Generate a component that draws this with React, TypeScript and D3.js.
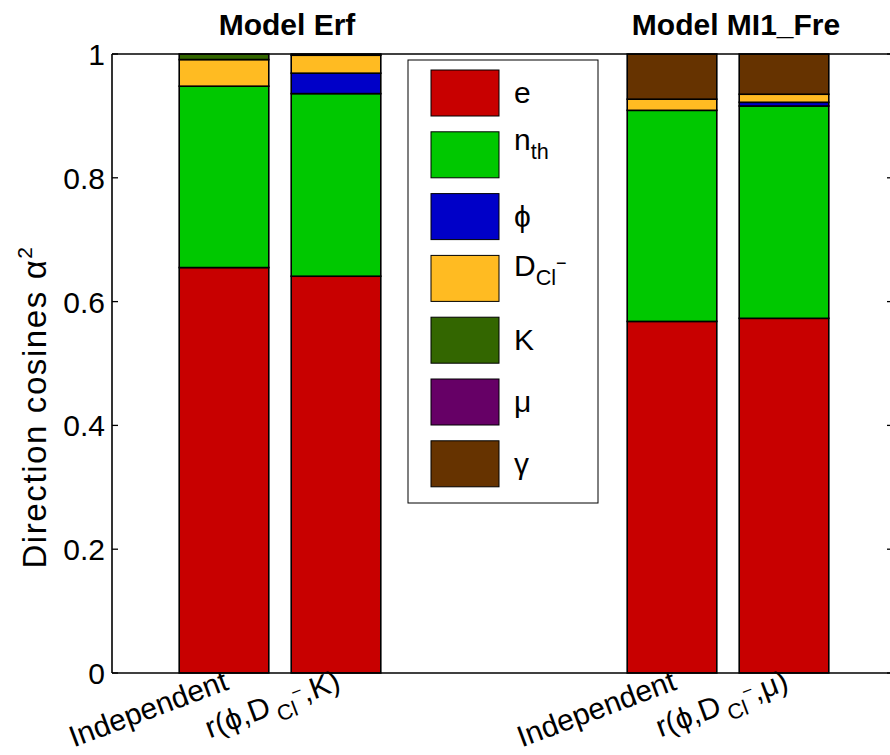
import React from "react";
import * as d3 from "d3";

const W = 890;
const H = 755;

// ---- data ----
const categories = ["Independent", "r(ϕ,D_Cl⁻,K)", "", "", "Independent", "r(ϕ,D_Cl⁻,μ)"];
const seriesKeys = ["e", "nth", "phi", "dcl", "K", "mu", "gamma"];
const seriesColors = ["#c80000", "#00c800", "#0000c8", "#ffbb22", "#336600", "#660066", "#663300"];
const eVals = [0.655, 0.641, 0, 0, 0.568, 0.573];
const nthVals = [0.293, 0.295, 0, 0, 0.341, 0.343];
const phiVals = [0, 0.033, 0, 0, 0, 0.006];
const dclVals = [0.043, 0.029, 0, 0, 0.018, 0.013];
const kVals = [0.009, 0.002, 0, 0, 0, 0];
const muVals = [0, 0, 0, 0, 0, 0];
const gammaVals = [0, 0, 0, 0, 0.073, 0.065];
const yTicks = [0, 0.2, 0.4, 0.6, 0.8, 1];
const yTickLabels = ["0", "0.2", "0.4", "0.6", "0.8", "1"];
const groupTitles = ["Model Erf", "Model MI1_Fre"];
const yLabel = "Direction cosines α";

type Part = { t: string; sub?: boolean; sup?: boolean };
// tick label pieces (main / subscript / superscript)
const tickLabelParts: Part[][] = [
  [{ t: "Independent" }],
  [{ t: "r(ϕ,D" }, { t: "Cl", sub: true }, { t: "−", sup: true }, { t: ",K)" }],
  [],
  [],
  [{ t: "Independent" }],
  [{ t: "r(ϕ,D" }, { t: "Cl", sub: true }, { t: "−", sup: true }, { t: ",μ)" }],
];
const legendParts: Part[][] = [
  [{ t: "e" }],
  [{ t: "n" }, { t: "th", sub: true }],
  [{ t: "ϕ" }],
  [{ t: "D" }, { t: "Cl", sub: true }, { t: "−", sup: true }],
  [{ t: "K" }],
  [{ t: "μ" }],
  [{ t: "γ" }],
];

const FONT = "'Liberation Sans', Arial, Helvetica, sans-serif";

function renderParts(parts: Part[], size: number, subGap: number) {
  const out: React.ReactNode[] = [];
  let level = 0;
  const subSize = size * 0.72;
  const supSize = size * 0.6;
  parts.forEach((p, i) => {
    let dy = 0;
    let fs = size;
    let dx = 0;
    if (p.sub) {
      dy = level === 0 ? size * 0.3 : 0;
      fs = subSize;
      dx = subGap;
      level = 1;
    } else if (p.sup) {
      dy = -size * 0.55;
      fs = supSize;
      level = 2;
    } else {
      if (level === 1) dy = -size * 0.3;
      else if (level === 2) dy = size * 0.25;
      level = 0;
    }
    out.push(
      <tspan key={i} dy={dy} dx={dx} fontSize={fs}>
        {p.t}
      </tspan>
    );
  });
  return out;
}

export default function App() {
  const x = d3.scaleLinear().domain([0, 7]).range([112, 896]);
  const y = d3.scaleLinear().domain([0, 1]).range([673, 54]);
  const barW = (x(1) - x(0)) * 0.8;

  const table = categories.map((c, i) => ({
    idx: i + 1,
    e: eVals[i],
    nth: nthVals[i],
    phi: phiVals[i],
    dcl: dclVals[i],
    K: kVals[i],
    mu: muVals[i],
    gamma: gammaVals[i],
  }));
  const stack = d3.stack<any>().keys(seriesKeys)(table);

  const titleX = [287, 736];

  return (
    <svg width={W} height={H} style={{ position: "absolute", left: 0, top: 0, background: "#fff" }} fontFamily={FONT}>
      <rect x={0} y={0} width={W} height={H} fill="#fff" />
      {/* bars */}
      {stack.map((layer, si) => (
        <g key={si}>
          {layer.map((d, bi) => {
            const cx = x(table[bi].idx);
            return (
              <rect
                key={bi}
                x={cx - barW / 2}
                y={y(d[1])}
                width={barW}
                height={Math.max(0, y(d[0]) - y(d[1]))}
                fill={seriesColors[si]}
                stroke="#000"
                strokeWidth={1.6}
              />
            );
          })}
        </g>
      ))}
      {/* axes box */}
      <line x1={112} x2={112} y1={y(1)} y2={y(0)} stroke="#000" strokeWidth={1.6} />
      <line x1={112} x2={896} y1={y(0)} y2={y(0)} stroke="#000" strokeWidth={1.6} />
      <line x1={112} x2={896} y1={y(1)} y2={y(1)} stroke="#000" strokeWidth={1.6} />
      <line x1={896} x2={896} y1={y(1)} y2={y(0)} stroke="#000" strokeWidth={1.6} />
      {yTicks.map((t, i) => (
        <g key={i}>
          <line x1={112} x2={118} y1={y(t)} y2={y(t)} stroke="#000" strokeWidth={1.3} />
          <line x1={887} x2={896} y1={y(t)} y2={y(t)} stroke="#000" strokeWidth={1.3} />
          <text x={105} y={y(t) + 11} fontSize={30} textAnchor="end" fill="#000">
            {yTickLabels[i]}
          </text>
        </g>
      ))}
      {/* x tick labels */}
      {tickLabelParts.map((parts, i) =>
        parts.length ? (
          <text
            key={i}
            x={0}
            y={0}
            fontSize={30}
            textAnchor="end"
            fill="#000"
            transform={`translate(${x(i + 1) + 6},${689}) rotate(-20.5)`}
          >
            {renderParts(parts, 30, 5)}
          </text>
        ) : null
      )}
      {/* titles */}
      {groupTitles.map((t, i) => (
        <text key={i} x={titleX[i]} y={35} fontSize={30} fontWeight="bold" textAnchor="middle" fill="#000">
          {t}
        </text>
      ))}
      {/* y label */}
      <text transform={`translate(46,407) rotate(-90)`} fontSize={33} letterSpacing={1.6} textAnchor="middle" fill="#000">
        {yLabel}
        <tspan dy={-14} fontSize={21}>2</tspan>
      </text>
      {/* legend */}
      <g>
        <rect x={408} y={60} width={190} height={443} fill="#fff" stroke="#000" strokeWidth={1} />
        {legendParts.map((parts, i) => {
          const sy = 70 + i * 61.8;
          const cy = sy + 23;
          const off = parts.length > 1 ? (parts.length === 2 ? -5 : -2) : 10;
          return (
            <g key={i}>
              <rect x={431} y={sy} width={68} height={46} fill={seriesColors[i]} stroke="#000" strokeWidth={1} />
              <text x={514} y={cy + off} fontSize={30} fill="#000">
                {renderParts(parts, 30, 0)}
              </text>
            </g>
          );
        })}
      </g>
    </svg>
  );
}
